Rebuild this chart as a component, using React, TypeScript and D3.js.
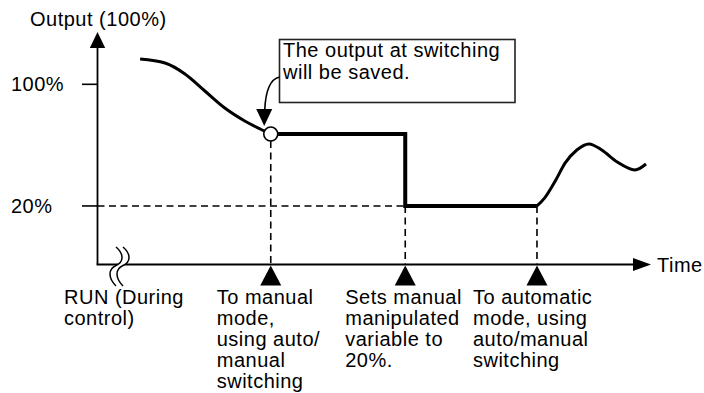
import React from "react";
import * as d3 from "d3";

// ---- data (time in arbitrary units 0..100, output in %) ----
const autoTime = [7.7, 12.2, 15.8, 19.4, 23.0, 26.6, 29.4, 31.3];
const autoOutput = [116.6, 114.0, 106.8, 95.6, 84.4, 75.9, 70.6, 67.3];

const manualTime = [31.3, 55.6, 55.6, 79.4];
const manualOutput = [67.3, 67.3, 20, 20];

const resumeTime = [79.4, 80.8, 82.7, 84.5, 86.6, 88.8, 91.1, 93.9, 97.1, 99.1];
const resumeOutput = [20, 25.3, 36.4, 48.3, 56.8, 60.8, 56.8, 48.9, 43.7, 47.6];

const tickValues = [100, 20];
const tickLabels = ["100%", "20%"];

const eventTimes = [31.3, 55.6, 79.4];
const eventLabels = [
  ["To manual", "mode,", "using auto/", "manual", "switching"],
  ["Sets manual", "manipulated", "variable to", "20%."],
  ["To automatic", "mode, using", "auto/manual", "switching"],
];
const runLabel = ["RUN (During", "control)"];
const noteLines = ["The output at switching", "will be saved."];
const yTitle = "Output (100%)";
const xTitle = "Time";

const W = 704;
const H = 393;

export default function App() {
  const x = d3.scaleLinear().domain([0, 100]).range([97.5, 651]);
  const y = d3.scaleLinear().domain([-18.5, 134.4]).range([264.5, 32]);

  const x0 = x(0);
  const y0 = y(-18.5);
  const yTop = y(134.4);
  const xEnd = x(100);

  const curve = d3
    .line<[number, number]>()
    .x((d) => x(d[0]))
    .y((d) => y(d[1]))
    .curve(d3.curveMonotoneX);
  const straight = d3
    .line<[number, number]>()
    .x((d) => x(d[0]))
    .y((d) => y(d[1]));

  const autoPts = autoTime.map((t, i) => [t, autoOutput[i]] as [number, number]);
  const manualPts = manualTime.map((t, i) => [t, manualOutput[i]] as [number, number]);
  const resumePts = resumeTime.map((t, i) => [t, resumeOutput[i]] as [number, number]);

  const font = {
    fontFamily: "'Liberation Sans', Arial, Helvetica, sans-serif",
    fontSize: 20,
    letterSpacing: 0.5,
    fill: "#000",
  } as React.CSSProperties;

  const lineH = 21;
  const labelOffsets = [-54, -60, -64];

  const circX = x(manualTime[0]);
  const circY = y(manualOutput[0]);
  const yLow = y(20);

  const squiggle = (sx: number) =>
    `M${sx},247 C${sx + 8},254 ${sx + 8},262 ${sx},265.5 C${sx - 8},269 ${sx - 8},278 ${sx},286`;

  return (
    <svg
      width={W}
      height={H}
      style={{ position: "absolute", left: 0, top: 0, background: "#fff" }}
    >
      <rect x={0} y={0} width={W} height={H} fill="#fff" />

      {/* dashed guides */}
      <line
        x1={x0}
        x2={x(manualTime[1])}
        y1={yLow}
        y2={yLow}
        stroke="#000"
        strokeWidth={1.6}
        strokeDasharray="7,4.5"
      />
      <line
        x1={circX}
        x2={circX}
        y1={circY + 7}
        y2={y0}
        stroke="#000"
        strokeWidth={1.6}
        strokeDasharray="7,4.5"
      />
      {eventTimes.slice(1).map((t, i) => (
        <line
          key={i}
          x1={x(t)}
          x2={x(t)}
          y1={yLow}
          y2={y0}
          stroke="#000"
          strokeWidth={1.6}
          strokeDasharray="7,4.5"
        />
      ))}

      {/* axes */}
      <line x1={x0} x2={x0} y1={yTop + 14} y2={y0} stroke="#000" strokeWidth={1.8} />
      <line x1={x0 - 0.9} x2={xEnd - 16} y1={y0} y2={y0} stroke="#000" strokeWidth={1.8} />
      <path
        d={`M${x0},${yTop} L${x0 + 7.7},${yTop + 16} L${x0 - 7.7},${yTop + 16} Z`}
        fill="#000"
      />
      <path
        d={`M${xEnd},${y0} L${xEnd - 18},${y0 - 6.5} L${xEnd - 18},${y0 + 6.5} Z`}
        fill="#000"
      />

      {/* ticks */}
      {tickValues.map((v, i) => (
        <g key={v}>
          <line x1={82} x2={x0} y1={y(v)} y2={y(v)} stroke="#000" strokeWidth={1.6} />
          <text x={11} y={y(v) + 7} style={font}>
            {tickLabels[i]}
          </text>
        </g>
      ))}

      {/* axis break */}
      <path
        d={`${squiggle(116)} L123,286 C${123 - 8},278 ${123 - 8},269 123,265.5 C${123 + 8},262 ${123 + 8},254 123,247 Z`}
        fill="#fff"
        stroke="none"
      />
      <path d={squiggle(116)} fill="none" stroke="#000" strokeWidth={1.5} />
      <path d={squiggle(123)} fill="none" stroke="#000" strokeWidth={1.5} />

      {/* output curves */}
      <path d={curve(autoPts) || ""} fill="none" stroke="#000" strokeWidth={3} />
      <path
        d={straight(manualPts) || ""}
        fill="none"
        stroke="#000"
        strokeWidth={4}
        strokeLinejoin="miter"
      />
      <path d={curve(resumePts) || ""} fill="none" stroke="#000" strokeWidth={3} />
      <circle cx={circX} cy={circY} r={7} fill="#fff" stroke="#000" strokeWidth={1.6} />

      {/* event markers */}
      {eventTimes.map((t, i) => (
        <g key={i}>
          <path
            d={`M${x(t)},${y0 + 1} L${x(t) + 10.5},${y0 + 21} L${x(t) - 10.5},${y0 + 21} Z`}
            fill="#000"
          />
          {eventLabels[i].map((ln, j) => (
            <text key={j} x={x(t) + labelOffsets[i]} y={304 + j * lineH} style={font}>
              {ln}
            </text>
          ))}
        </g>
      ))}

      {/* RUN label */}
      {runLabel.map((ln, j) => (
        <text key={j} x={64} y={304 + j * lineH} style={font}>
          {ln}
        </text>
      ))}

      {/* titles */}
      <text x={30} y={25.5} style={font}>
        {yTitle}
      </text>
      <text x={xEnd + 6} y={y0 + 7} style={font}>
        {xTitle}
      </text>

      {/* annotation box */}
      <rect
        x={279.5}
        y={39.5}
        width={235.5}
        height={63}
        fill="#fff"
        stroke="#222"
        strokeWidth={1.6}
      />
      {noteLines.map((ln, j) => (
        <text key={j} x={283} y={57 + j * 21.5} style={font}>
          {ln}
        </text>
      ))}
      <path
        d={`M279.5,77 Q266,80 ${circX - 6},${circY - 24}`}
        fill="none"
        stroke="#000"
        strokeWidth={1.6}
      />
      <path
        d={`M${circX - 6.5},${circY - 8} L${circX + 1.5},${circY - 25} L${circX - 14.5},${circY - 25} Z`}
        fill="#000"
      />
    </svg>
  );
}
